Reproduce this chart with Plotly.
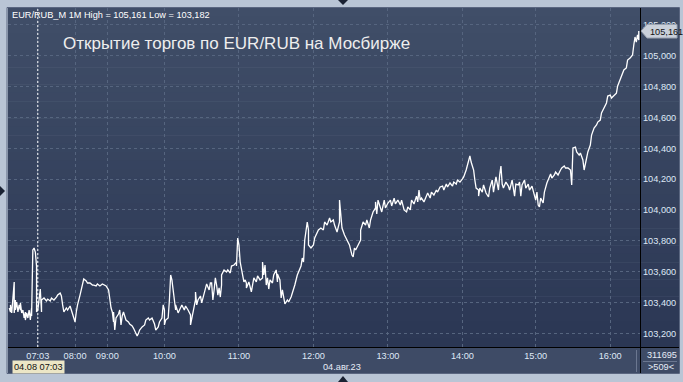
import plotly.graph_objects as go

# ---- data (bar index of 1-minute bars, price) ----
bars = [1,2,2,3,5,5,6,6,7,8,9,10,10,11,12,13,14,14,15,16,17,18,19,19,20,21,22,23,23,24,
        25,26,27,27,29,31,32,34,35,37,39,40,42,43,44,45,47,48,50,52,53,54,55,56,58,60,61,63,64,66,
        68,69,71,72,74,76,79,81,82,83,84,85,85,86,87,89,90,91,92,93,95,97,98,100,101,103,104,105,106,108,
        110,111,113,114,116,118,119,121,122,124,125,126,126,127,129,130,131,132,133,134,135,135,137,139,140,142,143,145,147,147,
        148,150,151,151,152,153,155,156,158,159,160,162,163,164,165,166,167,168,169,170,171,172,172,174,176,177,179,180,182,184,
        184,185,186,187,188,190,191,192,192,194,196,197,198,200,201,203,205,205,206,207,208,209,210,211,213,214,216,217,217,219,
        220,221,222,223,225,226,228,230,231,233,235,236,237,238,239,241,242,242,244,246,247,249,250,252,254,255,257,259,260,262,
        263,265,267,267,268,269,271,272,274,275,277,278,279,280,282,284,284,286,288,289,291,292,294,296,296,297,298,300,301,303,
        304,306,308,309,311,312,314,316,317,319,321,322,324,325,327,329,330,331,332,333,335,337,338,340,341,343,345,346,348,350,
        351,353,354,356,358,359,361,362,364,366,367,369,370,371,372,373,375,376,377,379,379,380,382,383,385,387,388,390,391,393,
        394,395,396,397,398,399,401,403,404,406,408,409,411,412,413,414,416,417,419,420,422,424,425,426,427,428,429,431,432,434,
        436,437,438,440,441,443,445,446,448,449,451,453,454,455,457,458,460,461,463,464,466,467,469,470,472,474,475,477,478,480,
        482,483,485,486,488,490,491,493,494,496,498,499,501,503,504,505,506,507,508,508]
prices = [103.364,103.338,103.384,103.332,103.533,103.332,103.416,103.351,103.403,103.338,103.384,103.351,103.397,103.332,103.351,103.299,103.338,103.286,103.332,103.299,103.351,103.286,103.364,103.312,103.740,103.753,103.727,103.636,103.338,103.351,
          103.416,103.487,103.338,103.416,103.429,103.410,103.422,103.410,103.429,103.416,103.435,103.448,103.461,103.442,103.384,103.338,103.364,103.351,103.377,103.325,103.299,103.273,103.338,103.384,103.448,103.533,103.552,103.539,103.526,103.526,
          103.513,103.513,103.507,103.520,103.507,103.520,103.507,103.481,103.416,103.364,103.338,103.273,103.338,103.221,103.299,103.325,103.351,103.254,103.312,103.338,103.286,103.273,103.260,103.247,103.234,103.202,103.182,103.198,103.221,103.241,
          103.254,103.286,103.299,103.286,103.299,103.260,103.221,103.241,103.273,103.299,103.384,103.351,103.254,103.286,103.299,103.416,103.578,103.546,103.481,103.416,103.351,103.384,103.332,103.364,103.384,103.351,103.377,103.351,103.319,103.254,
          103.299,103.364,103.416,103.468,103.384,103.416,103.442,103.397,103.461,103.481,103.520,103.481,103.526,103.526,103.416,103.481,103.559,103.513,103.448,103.494,103.435,103.513,103.578,103.611,103.598,103.611,103.591,103.636,103.643,103.662,
          103.636,103.818,103.773,103.662,103.623,103.533,103.546,103.526,103.494,103.533,103.468,103.513,103.559,103.533,103.572,103.546,103.559,103.662,103.578,103.643,103.513,103.559,103.487,103.546,103.526,103.578,103.611,103.533,103.585,103.546,
          103.429,103.481,103.416,103.390,103.416,103.403,103.435,103.481,103.513,103.578,103.623,103.636,103.688,103.662,103.805,103.922,103.870,103.773,103.753,103.773,103.818,103.850,103.870,103.883,103.870,103.922,103.902,103.948,103.922,103.935,
          103.902,103.857,103.922,104.064,103.967,103.883,103.837,103.818,103.792,103.773,103.708,103.695,103.753,103.740,103.773,103.805,103.870,103.922,103.902,103.935,103.883,103.935,103.987,104.013,104.052,103.974,104.064,104.019,103.987,104.064,
          104.013,104.045,104.064,104.026,104.077,104.039,104.064,104.032,104.064,104.000,103.987,104.019,104.000,104.064,104.039,104.090,104.052,104.129,104.064,104.077,104.052,104.090,104.110,104.077,104.116,104.097,104.129,104.116,104.149,104.155,
          104.129,104.168,104.149,104.175,104.155,104.181,104.168,104.194,104.181,104.201,104.214,104.259,104.291,104.337,104.350,104.311,104.259,104.194,104.142,104.129,104.090,104.142,104.116,104.162,104.110,104.084,104.142,104.194,104.116,104.214,
          104.162,104.129,104.227,104.285,104.168,104.142,104.181,104.155,104.129,104.194,104.090,104.168,104.162,104.181,104.090,104.162,104.194,104.142,104.168,104.129,104.155,104.097,104.064,104.116,104.032,104.019,104.077,104.045,104.116,104.175,
          104.220,104.233,104.207,104.227,104.246,104.227,104.259,104.272,104.285,104.272,104.272,104.259,104.162,104.402,104.408,104.376,104.356,104.369,104.324,104.259,104.337,104.376,104.421,104.486,104.531,104.551,104.570,104.583,104.629,104.661,
          104.694,104.739,104.745,104.726,104.739,104.758,104.804,104.843,104.869,104.908,104.921,104.972,104.985,105.005,105.070,105.122,105.089,105.135,105.102,105.161]

tick_bars = [24, 54, 80, 126, 186, 246, 306, 366, 425, 485]
tick_text = ["07:03", "08:00", "09:00", "10:00", "11:00", "12:00", "13:00", "14:00", "15:00", "16:00"]
price_ticks = [103.2, 103.4, 103.6, 103.8, 104.0, 104.2, 104.4, 104.6, 104.8, 105.0, 105.2]

symbol = "EUR/RUB_M"
high_val, low_val = max(prices), min(prices)
title_text = "Открытие торгов по EUR/RUB на Мосбирже"
cursor_bar = 24
cursor_label = "04.08 07:03"
date_label = "04.авг.23"
volume_label = "311695"
bars_label = ">509<"

def fmt(v):
    return f"{v:.3f}".replace(".", ",")

W, H = 683, 382
L, R, T, B = 8, 640, 8, 347   # plot area in pixels
def px(x):  # pixel -> paper x
    return (x - L) / (R - L)
def py(y):  # pixel -> paper y
    return (B - y) / (B - T)

FONT = "Liberation Sans, Arial, sans-serif"

fig = go.Figure()
fig.add_trace(go.Scatter(x=bars, y=prices, mode="lines",
                         line=dict(color="#ffffff", width=1.3),
                         hoverinfo="skip", showlegend=False))

shapes = []
# outer panel background gradient
top_c = (64, 78, 104)
bot_c = (43, 55, 84)
n = 40
for i in range(n):
    y0 = T + (B - T) * i / n
    y1 = T + (B - T) * (i + 1) / n
    t = i / (n - 1)
    c = tuple(round(top_c[k] + (bot_c[k] - top_c[k]) * t) for k in range(3))
    shapes.append(dict(type="rect", xref="paper", yref="paper", layer="below",
                       x0=px(L), x1=px(679), y0=py(y1 + 0.5), y1=py(y0),
                       line=dict(width=0), fillcolor=f"rgb{c}"))
# x-axis strip
shapes.append(dict(type="rect", xref="paper", yref="paper", layer="below",
                   x0=px(L), x1=px(679), y0=py(373), y1=py(B),
                   line=dict(width=0), fillcolor="#3e4b66"))
# panel border
shapes.append(dict(type="rect", xref="paper", yref="paper", layer="below",
                   x0=px(7), x1=px(679.5), y0=py(373.5), y1=py(7.5),
                   line=dict(width=1, color="#5a6680"), fillcolor="rgba(0,0,0,0)"))
# black separators
shapes.append(dict(type="line", xref="paper", yref="paper", x0=px(L), x1=px(679),
                   y0=py(347.5), y1=py(347.5), line=dict(color="#000000", width=1)))
shapes.append(dict(type="line", xref="paper", yref="paper", x0=px(640.5), x1=px(640.5),
                   y0=py(T), y1=py(373), line=dict(color="#000000", width=1)))
shapes.append(dict(type="line", xref="paper", yref="paper", x0=px(636.5), x1=px(636.5),
                   y0=py(350), y1=py(372), line=dict(color="#6b7790", width=1)))
shapes.append(dict(type="line", xref="paper", yref="paper", x0=px(643), x1=px(677),
                   y0=py(361.5), y1=py(361.5), line=dict(color="#6b7790", width=1)))
# crosshair
shapes.append(dict(type="line", xref="x", yref="paper", x0=cursor_bar, x1=cursor_bar,
                   y0=0, y1=1, line=dict(color="#ffffff", width=1, dash="2px,2px")))
# price marker
shapes.append(dict(type="path", xref="paper", yref="paper",
                   path=f"M {px(641)},{py(31)} L {px(647)},{py(24.5)} L {px(677)},{py(24.5)} "
                        f"L {px(677)},{py(38)} L {px(647)},{py(38)} Z",
                   fillcolor="#c9d0da", line=dict(color="#9aa3b0", width=1)))
# small navigation triangles
shapes.append(dict(type="path", xref="paper", yref="paper",
                   path=f"M {px(338)},{py(0)} L {px(348)},{py(0)} L {px(343)},{py(5)} Z",
                   fillcolor="#1a2233", line=dict(width=0)))
shapes.append(dict(type="path", xref="paper", yref="paper",
                   path=f"M {px(338)},{py(382)} L {px(348)},{py(382)} L {px(343)},{py(376)} Z",
                   fillcolor="#1a2233", line=dict(width=0)))
shapes.append(dict(type="path", xref="paper", yref="paper",
                   path=f"M {px(0)},{py(186)} L {px(0)},{py(196)} L {px(5)},{py(191)} Z",
                   fillcolor="#1a2233", line=dict(width=0)))

annotations = [
    dict(text=f"{symbol} 1M High = {fmt(high_val)} Low = {fmt(low_val)}",
         xref="paper", yref="paper", x=px(10), y=py(15), xanchor="left", yanchor="middle",
         showarrow=False, font=dict(family=FONT, size=9.2, color="#ffffff")),
    dict(text=title_text, xref="paper", yref="paper", x=px(61), y=py(43),
         xanchor="left", yanchor="middle", showarrow=False,
         font=dict(family=FONT, size=17, color="#eeeeee")),
    dict(text=fmt(high_val), xref="paper", yref="paper", x=px(648), y=py(31.5),
         xanchor="left", yanchor="middle", showarrow=False,
         font=dict(family=FONT, size=9.2, color="#111111")),
    dict(text=cursor_label, xref="paper", yref="paper", x=px(12), y=py(367),
         xanchor="left", yanchor="middle", showarrow=False, bgcolor="#ece6c6",
         borderpad=1, font=dict(family=FONT, size=9.2, color="#111111")),
    dict(text=date_label, xref="paper", yref="paper", x=px(321), y=py(367),
         xanchor="left", yanchor="middle", showarrow=False,
         font=dict(family=FONT, size=9.2, color="#e6ecf6")),
    dict(text=volume_label, xref="paper", yref="paper", x=px(662), y=py(355),
         xanchor="center", yanchor="middle", showarrow=False,
         font=dict(family=FONT, size=9.2, color="#e6ecf6")),
    dict(text=bars_label.replace("<", "&lt;").replace(">", "&gt;"), xref="paper", yref="paper",
         x=px(661), y=py(367.5), xanchor="center", yanchor="middle", showarrow=False,
         font=dict(family=FONT, size=9.2, color="#e6ecf6")),
]

fig.update_layout(
    width=W, height=H,
    margin=dict(l=L, r=W - R, t=T, b=H - B),
    paper_bgcolor="#b9c5d5",
    plot_bgcolor="rgba(0,0,0,0)",
    separators=", ",
    shapes=shapes,
    annotations=annotations,
    showlegend=False,
    xaxis=dict(range=[0, 509], tickvals=tick_bars, ticktext=tick_text,
               showgrid=True, gridcolor="#56657f", griddash="3px,3px", gridwidth=1,
               zeroline=False, showline=False, ticks="",
               tickfont=dict(family=FONT, size=9.2, color="#dfe8f6"),
               ticklabelstandoff=2, fixedrange=True),
    yaxis=dict(range=[103.111, 105.310], side="right", tickvals=price_ticks,
               tickformat=".3f", showgrid=True, gridcolor="#56657f",
               griddash="3px,3px", gridwidth=1, zeroline=False, showline=False,
               ticks="", tickfont=dict(family=FONT, size=9.2, color="#dfe8f6"),
               ticklabelstandoff=2, fixedrange=True),
)

fig.write_html("out.html")
